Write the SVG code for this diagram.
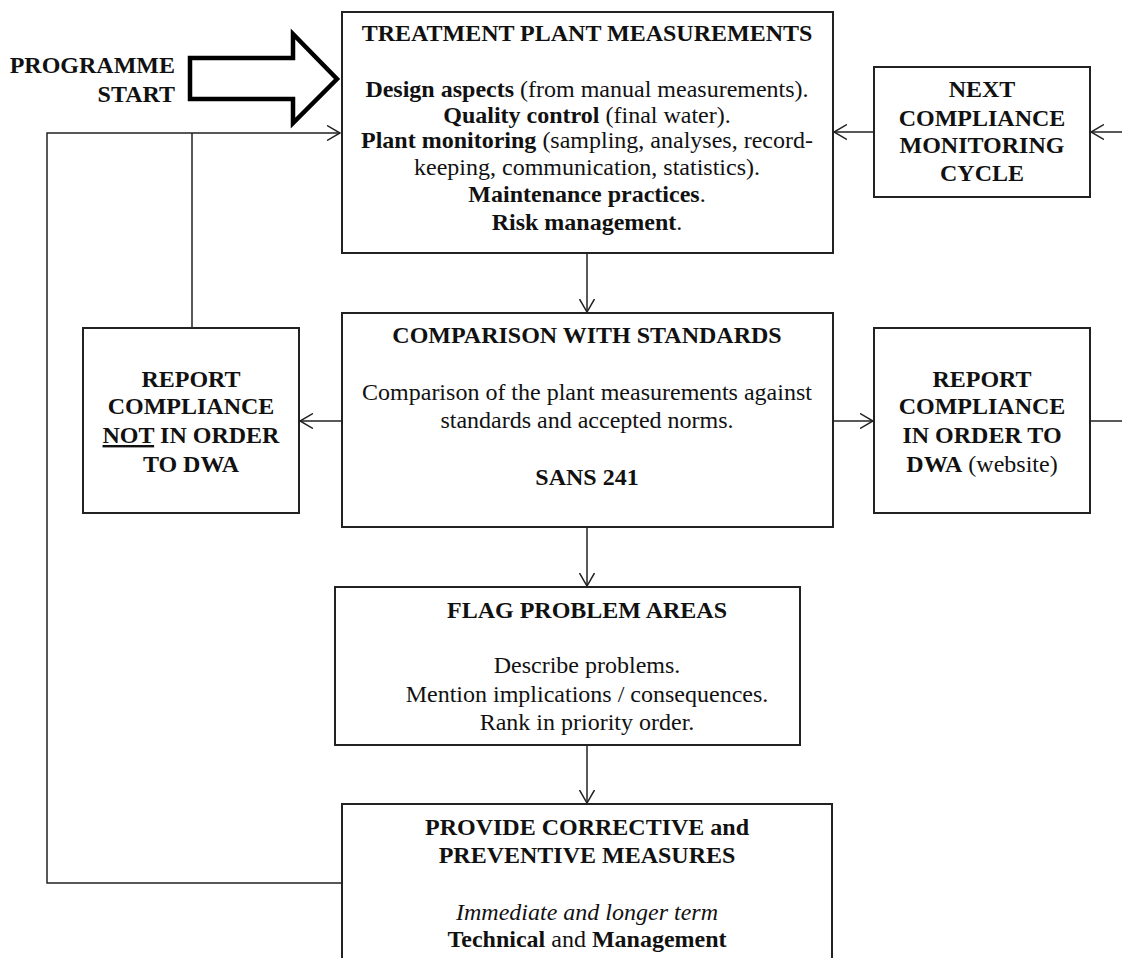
<svg xmlns="http://www.w3.org/2000/svg" width="1122" height="958" viewBox="0 0 1122 958">
<defs>
<marker id="ah" viewBox="0 0 14 16" refX="13" refY="8" markerWidth="14" markerHeight="16" markerUnits="userSpaceOnUse" orient="auto">
<path d="M0,0.5 L13,8 L0,15.5" fill="none" stroke="#222" stroke-width="1.5"/>
</marker>
<style>
.box{fill:#fff;stroke:#222;stroke-width:2}
.ln{fill:none;stroke:#222;stroke-width:1.5}
text{font-family:"Liberation Serif","Times New Roman",serif;font-size:24px;fill:#111;text-anchor:middle}
.b{font-weight:bold}
.i{font-style:italic}
</style>
</defs>
<rect width="1122" height="958" fill="#fff"/>

<g id="start">
<polygon points="190,58 293,58 293,34 337,79 293,123 293,99 190,99" fill="#fff" stroke="#000" stroke-width="4.5" stroke-linejoin="miter"/>
<text class="b" x="175" y="73" style="text-anchor:end">PROGRAMME</text>
<text class="b" x="175" y="102" style="text-anchor:end">START</text>
</g>

<g id="connectors">
<line class="ln" x1="587" y1="253" x2="587" y2="312" marker-end="url(#ah)"/>
<line class="ln" x1="587" y1="527" x2="587" y2="586" marker-end="url(#ah)"/>
<line class="ln" x1="587" y1="745" x2="587" y2="803" marker-end="url(#ah)"/>
<line class="ln" x1="341" y1="421" x2="300" y2="421" marker-end="url(#ah)"/>
<line class="ln" x1="833" y1="421" x2="873" y2="421" marker-end="url(#ah)"/>
<line class="ln" x1="1090" y1="421" x2="1122" y2="421"/>
<line class="ln" x1="874" y1="132" x2="834" y2="132" marker-end="url(#ah)"/>
<line class="ln" x1="1122" y1="132" x2="1091" y2="132" marker-end="url(#ah)"/>
<polyline class="ln" points="342,883 47,883 47,133 340,133" marker-end="url(#ah)"/>
<line class="ln" x1="192" y1="328" x2="192" y2="133"/>
</g>

<g id="treatment">
<rect class="box" x="342" y="12" width="491" height="241"/>
<text class="b" x="587" y="41">TREATMENT PLANT MEASUREMENTS</text>
<text x="587" y="97"><tspan class="b">Design aspects</tspan> (from manual measurements).</text>
<text x="587" y="123"><tspan class="b">Quality control</tspan> (final water).</text>
<text x="587" y="148"><tspan class="b">Plant monitoring</tspan> (sampling, analyses, record-</text>
<text x="587" y="175">keeping, communication, statistics).</text>
<text x="587" y="202"><tspan class="b">Maintenance practices</tspan>.</text>
<text x="587" y="230"><tspan class="b">Risk management</tspan>.</text>
</g>

<g id="next">
<rect class="box" x="874" y="67" width="216" height="130"/>
<text class="b" x="982" y="97">NEXT</text>
<text class="b" x="982" y="126">COMPLIANCE</text>
<text class="b" x="982" y="153">MONITORING</text>
<text class="b" x="982" y="181">CYCLE</text>
</g>

<g id="comparison">
<rect class="box" x="342" y="313" width="491" height="214"/>
<text class="b" x="587" y="343">COMPARISON WITH STANDARDS</text>
<text x="587" y="400">Comparison of the plant measurements against</text>
<text x="587" y="428">standards and accepted norms.</text>
<text class="b" x="587" y="485">SANS 241</text>
</g>

<g id="notinorder">
<rect class="box" x="83" y="328" width="216" height="185"/>
<text class="b" x="191" y="387">REPORT</text>
<text class="b" x="191" y="414">COMPLIANCE</text>
<text class="b" x="191" y="443"><tspan text-decoration="underline">NOT</tspan> IN ORDER</text>
<text class="b" x="191" y="472">TO DWA</text>
</g>

<g id="inorder">
<rect class="box" x="874" y="328" width="216" height="185"/>
<text class="b" x="982" y="387">REPORT</text>
<text class="b" x="982" y="414">COMPLIANCE</text>
<text class="b" x="982" y="443">IN ORDER TO</text>
<text x="982" y="472"><tspan class="b">DWA</tspan> (website)</text>
</g>

<g id="flag">
<rect class="box" x="335" y="587" width="465" height="158"/>
<text class="b" x="587" y="618">FLAG PROBLEM AREAS</text>
<text x="587" y="673">Describe problems.</text>
<text x="587" y="702">Mention implications / consequences.</text>
<text x="587" y="730">Rank in priority order.</text>
</g>

<g id="corrective">
<rect class="box" x="342" y="804" width="490" height="170"/>
<text class="b" x="587" y="835">PROVIDE CORRECTIVE and</text>
<text class="b" x="587" y="863">PREVENTIVE MEASURES</text>
<text class="i" x="587" y="920">Immediate and longer term</text>
<text x="587" y="947"><tspan class="b">Technical</tspan> and <tspan class="b">Management</tspan></text>
</g>
</svg>
